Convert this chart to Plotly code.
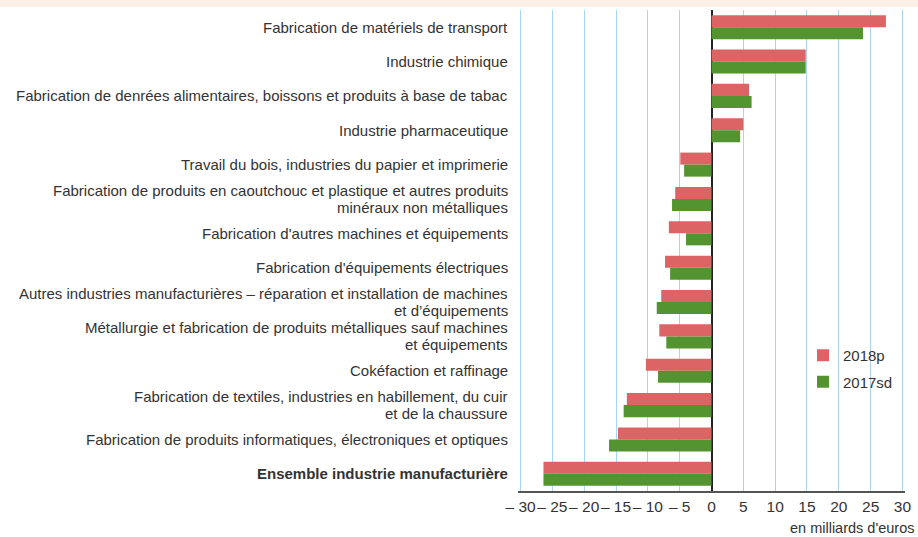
import plotly.graph_objects as go

categories = [
    "Fabrication de matériels de transport",
    "Industrie chimique",
    "Fabrication de denrées alimentaires, boissons et produits à base de tabac",
    "Industrie pharmaceutique",
    "Travail du bois, industries du papier et imprimerie",
    "Fabrication de produits en caoutchouc et plastique et autres produits<br>minéraux non métalliques",
    "Fabrication d'autres machines et équipements",
    "Fabrication d'équipements électriques",
    "Autres industries manufacturières – réparation et installation de machines<br>et d’équipements",
    "Métallurgie et fabrication de produits métalliques sauf machines<br>et équipements",
    "Cokéfaction et raffinage",
    "Fabrication de textiles, industries en habillement, du cuir<br>et de la chaussure",
    "Fabrication de produits informatiques, électroniques et optiques",
    "<b>Ensemble industrie manufacturière</b>",
]
values_2018p = [27.4, 14.8, 5.9, 5.0, -4.9, -5.7, -6.7, -7.3, -7.9, -8.2, -10.3, -13.3, -14.7, -26.4]
values_2017sd = [23.8, 14.8, 6.3, 4.5, -4.3, -6.2, -4.0, -6.5, -8.6, -7.1, -8.4, -13.8, -16.1, -26.4]

tick_vals = [-30, -25, -20, -15, -10, -5, 0, 5, 10, 15, 20, 25, 30]
tick_text = ["– 30", "– 25", "– 20", "– 15", "– 10", "– 5", "0", "5", "10", "15", "20", "25", "30"]

FONT = "Liberation Sans, Arial, sans-serif"
TXT = "#333333"
RED = "#dc6464"
GREEN = "#539431"

fig = go.Figure()
fig.add_trace(go.Bar(y=categories, x=values_2018p, orientation="h", name="2018p",
                     legendgroup="a", marker=dict(color=RED, line=dict(width=0))))
fig.add_trace(go.Bar(y=categories, x=values_2017sd, orientation="h", name="2017sd",
                     legendgroup="b", marker=dict(color=GREEN, line=dict(width=0))))

W, H = 918, 537
ml, mr, mt, mb = 518, 13, 10, 46
pw = W - ml - mr
ph = H - mt - mb

# category labels drawn as annotations (tight line spacing)
annotations = []
for cat in categories:
    lines = cat.split("<br>")
    n = len(lines)
    for i, line in enumerate(lines):
        offset = (i - (n - 1) / 2) * 17
        annotations.append(dict(
            text=line, xref="paper", yref="y", x=0, y=cat,
            xanchor="right", yanchor="middle", xshift=-8, yshift=-offset,
            showarrow=False, font=dict(family=FONT, size=15, color=TXT)))

annotations.append(dict(text="en milliards d'euros", xref="paper", yref="paper",
                        x=1 + (mr - 2) / pw, y=-37 / ph, xanchor="right", yanchor="middle",
                        showarrow=False, font=dict(family=FONT, size=14.5, color=TXT)))

fig.update_layout(
    width=W, height=H,
    margin=dict(l=ml, r=mr, t=mt, b=mb, pad=0),
    barmode="group", bargap=0.3, bargroupgap=0,
    plot_bgcolor="white", paper_bgcolor="white",
    font=dict(family=FONT, size=15, color=TXT),
    showlegend=True,
    legend=dict(x=(803 - ml) / pw, y=1 - (339 - mt) / ph, xanchor="left", yanchor="top",
                font=dict(size=15, color=TXT), bgcolor="rgba(0,0,0,0)",
                traceorder="grouped", tracegroupgap=4),
    xaxis=dict(range=[-30.4, 30.4], tickvals=tick_vals, ticktext=tick_text, tickangle=0,
               showgrid=True, gridcolor="#a9d5f2", gridwidth=1.3,
               zeroline=True, zerolinecolor="#222222", zerolinewidth=1.8,
               showline=True, linecolor="#555555", linewidth=2,
               ticks="", tickfont=dict(size=15.5, color=TXT), automargin=False,
               fixedrange=True),
    yaxis=dict(autorange="reversed", showgrid=False, ticks="", showline=False,
               showticklabels=False, automargin=False, fixedrange=True),
    shapes=[dict(type="rect", xref="paper", yref="paper",
                 x0=-ml / pw, x1=1 + mr / pw,
                 y0=1 + 3 / ph, y1=1 + mt / ph,
                 fillcolor="#fdf0e6", line=dict(width=0), layer="below")],
    annotations=annotations,
)

fig.write_html(
    "out.html",
    config={"displayModeBar": False},
    post_script="document.body.style.margin='0';document.body.style.overflow='hidden';",
)
